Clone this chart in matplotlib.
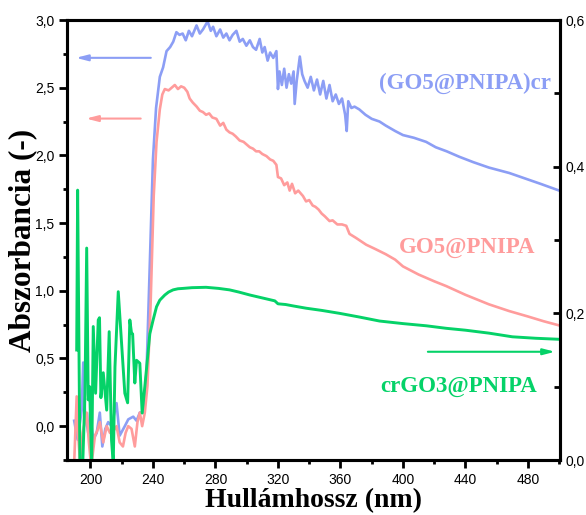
import matplotlib
matplotlib.use("Agg")
import matplotlib.pyplot as plt
from matplotlib.ticker import MultipleLocator, FuncFormatter

# ---------------- data ----------------
blue_x = [189.6, 191.8, 194.4, 195.4, 196.5, 198.6, 199.7, 201.8, 204, 206, 207.6, 209.5, 211.4, 213.5,
          216.7, 218.7, 222, 224.2, 227.4, 229.5, 231.6, 233.7, 235.9, 238, 240, 242, 244.4, 246.5,
          248.7, 251, 253, 255, 257, 259, 261, 263, 265, 267.9, 270, 272, 275, 277, 278.5, 280.6,
          283, 285, 287, 289, 291, 293.4, 295.5, 297.5, 299.8, 302, 304, 306, 308.3, 310, 311.5,
          313.4, 315, 317, 319, 320, 321, 322.5, 324, 325.5, 327, 328.5, 330, 330.7, 332, 334,
          335.5, 337, 339, 341, 343, 345, 347, 349, 351, 353, 355, 357, 359, 361, 363, 364, 365,
          367, 369, 372, 376, 380, 385, 389, 395, 400, 407, 414.8, 421, 428, 436, 445, 455, 468,
          478, 488, 500]
blue_y = [0.04, -0.10, 0.12, 0.47, 0.10, -0.05, 0.10, -0.10, -0.05, 0.10, -0.15, -0.02, 0.03, 0.00,
          0.17, -0.07, 0.00, 0.05, 0.07, 0.04, 0.10, 0.10, 0.40, 1.20, 1.97, 2.35, 2.58, 2.65,
          2.77, 2.80, 2.84, 2.91, 2.89, 2.90, 2.85, 2.92, 2.88, 2.96, 2.90, 2.93, 2.99, 2.92, 2.95,
          2.88, 2.93, 2.87, 2.90, 2.85, 2.89, 2.92, 2.84, 2.86, 2.81, 2.85, 2.80, 2.78, 2.86, 2.76,
          2.80, 2.70, 2.76, 2.72, 2.77, 2.49, 2.62, 2.52, 2.64, 2.50, 2.60, 2.53, 2.62, 2.38, 2.55,
          2.73, 2.60, 2.55, 2.50, 2.58, 2.48, 2.56, 2.45, 2.55, 2.42, 2.52, 2.40, 2.45, 2.38, 2.42,
          2.30, 2.18, 2.40, 2.35, 2.36, 2.34, 2.30, 2.27, 2.25, 2.22, 2.18, 2.15, 2.13, 2.10, 2.06,
          2.03, 1.99, 1.95, 1.91, 1.87, 1.83, 1.79, 1.74]

pink_x = [189.5, 191.2, 192.2, 193.5, 195, 197.6, 199, 200.5, 202.9, 204.5, 206, 208.2, 210.4, 212.5,
          214.5, 216.7, 218.7, 220.8, 222.5, 224.2, 226.3, 228.4, 230.1, 231.6, 233.1, 234.8, 236.5,
          238.5, 240.5, 242.3, 244.4, 246, 247.6, 250, 252, 254, 256, 258, 260, 262, 263.5, 265.5,
          268, 270, 272, 274, 276, 278, 280.6, 283, 285, 287, 289, 291, 293, 295.5, 298, 300, 302,
          304, 306, 308, 310, 312.6, 315, 317, 319, 320, 322, 324, 326, 327.5, 329, 331, 333, 336,
          338, 340, 342.2, 344, 346, 348, 350, 353, 355, 358, 361, 363.7, 365.8, 370, 376.5, 382,
          389, 395, 400, 410, 420, 427.6, 440, 455, 468, 480, 490, 500]
pink_y = [-0.30, 0.22, -0.07, -0.30, -0.05, 0.10, -0.12, -0.30, -0.07, -0.03, 0.03, -0.12, 0.00, -0.05,
          -0.04, 0.00, -0.12, -0.15, -0.05, 0.00, -0.02, -0.15, 0.03, 0.10, 0.00, 0.10, 0.30,
          0.90, 1.70, 2.10, 2.34, 2.45, 2.49, 2.48, 2.50, 2.52, 2.49, 2.51, 2.50, 2.47, 2.42, 2.39,
          2.36, 2.33, 2.32, 2.30, 2.31, 2.28, 2.27, 2.22, 2.24, 2.19, 2.17, 2.16, 2.14, 2.11, 2.10,
          2.08, 2.06, 2.05, 2.03, 2.03, 2.01, 1.995, 1.97, 1.96, 1.93, 1.84, 1.83, 1.78, 1.80, 1.74,
          1.79, 1.72, 1.74, 1.70, 1.66, 1.67, 1.63, 1.62, 1.60, 1.57, 1.55, 1.515, 1.52, 1.49, 1.49,
          1.48, 1.42, 1.39, 1.34, 1.31, 1.27, 1.23, 1.18, 1.12, 1.07, 1.035, 0.97, 0.90, 0.85,
          0.81, 0.775, 0.744]

green_x = [191.2, 191.8, 193.3, 195.0, 196.5, 197.6, 198.6, 199.5, 200.8, 201.8, 203.3, 205, 205.8,
           206.7, 208.2, 210.4, 212, 213.5, 214.6, 215.7, 217.8, 219.9, 222, 223.8, 225.2, 226.3,
           227, 228.4, 229.5, 231.6, 233.1, 234.8, 238, 240, 242.3, 244.4, 247.6, 250, 252.9, 256,
           259.3, 265, 274, 282, 289, 295, 302, 310, 318, 320, 325, 330, 338, 348, 359.4, 372,
           385, 400, 415, 427.6, 440, 455, 470, 485, 500]
green_y = [0.15, 0.368, -0.01, -0.01, 0.09, 0.289, 0.082, 0.10, -0.01, 0.182, 0.091, 0.191, 0.194,
           0.085, 0.119, 0.068, 0.175, 0.027, -0.005, 0.127, 0.2295, 0.16, 0.091, 0.078, 0.191, 0.173,
           0.172, 0.105, 0.136, 0.132, 0.064, 0.10, 0.172, 0.19, 0.209, 0.218, 0.225, 0.229, 0.232,
           0.2335, 0.234, 0.235, 0.2355, 0.234, 0.232, 0.229, 0.225, 0.221, 0.217, 0.213, 0.212,
           0.210, 0.207, 0.204, 0.200, 0.195, 0.1895, 0.186, 0.183, 0.1796, 0.177, 0.173, 0.168,
           0.166, 0.1646]

labels = ["(GO5@PNIPA)cr", "GO5@PNIPA", "crGO3@PNIPA"]
xlabel = "Hullámhossz (nm)"
ylabel = "Abszorbancia (-)"

# ---------------- style ----------------
c_blue = "#8c9ef5"
c_pink = "#ff9c9c"
c_green = "#05d268"

serif = ["Liberation Serif", "DejaVu Serif"]
sans = ["Liberation Sans", "DejaVu Sans"]
plt.rcParams["font.family"] = sans

fig = plt.figure(figsize=(5.86, 5.15), dpi=100)
ax = fig.add_axes([67 / 586, 1 - 460 / 515, 493 / 586, 440 / 515])
ax2 = ax.twinx()

ax.plot(blue_x, blue_y, color=c_blue, lw=1.9, solid_joinstyle="round")
ax.plot(pink_x, pink_y, color=c_pink, lw=1.9, solid_joinstyle="round")
ax2.plot(green_x, green_y, color=c_green, lw=2.1, solid_joinstyle="round")

ax.set_xlim(185, 500.5)
ax.set_ylim(-0.25, 3.0)
ax2.set_ylim(0, 0.6)

fmt = FuncFormatter(lambda v, p: f"{v:.1f}".replace(".", ","))
ax.xaxis.set_major_locator(MultipleLocator(40))
ax.xaxis.set_minor_locator(MultipleLocator(20))
ax.yaxis.set_major_locator(MultipleLocator(0.5))
ax.yaxis.set_minor_locator(MultipleLocator(0.25))
ax.yaxis.set_major_formatter(fmt)
ax2.yaxis.set_major_locator(MultipleLocator(0.2))
ax2.yaxis.set_minor_locator(MultipleLocator(0.1))
ax2.yaxis.set_major_formatter(fmt)

for a in (ax, ax2):
    for s in a.spines.values():
        s.set_linewidth(2.2)

ax.tick_params(axis="both", which="major", direction="out", length=6, width=2, labelsize=10, pad=3)
ax.tick_params(axis="both", which="minor", direction="out", length=3, width=2)
ax.tick_params(axis="y", right=False)
ax.tick_params(axis="x", top=False, which="both")
ax2.tick_params(axis="y", which="major", direction="in", length=5, width=2, labelsize=10, pad=4)
ax2.tick_params(axis="y", which="minor", direction="in", length=4, width=2)

ax.set_xlabel(xlabel, fontfamily=serif, fontweight="bold", fontsize=20, va="center")
ax.xaxis.set_label_coords(0.5, -0.092)
ax.set_ylabel(ylabel, fontfamily=serif, fontweight="bold", fontsize=22.5, va="center")
ax.yaxis.set_label_coords(-0.09, 0.5)

# labels
ax.text(0.807, 0.855, labels[0], transform=ax.transAxes, color=c_blue, fontfamily=serif,
        fontweight="bold", fontsize=16.5, ha="center", va="center")
ax.text(0.811, 0.484, labels[1], transform=ax.transAxes, color=c_pink, fontfamily=serif,
        fontweight="bold", fontsize=16.5, ha="center", va="center")
ax.text(0.794, 0.166, labels[2], transform=ax.transAxes, color=c_green, fontfamily=serif,
        fontweight="bold", fontsize=16.5, ha="center", va="center")

# arrows indicating axes
def arrow(tail, head, color):
    ax.annotate("", xy=head, xytext=tail, xycoords="axes fraction", textcoords="axes fraction",
                arrowprops=dict(arrowstyle="-|>,head_length=0.7,head_width=0.18", color=color,
                                lw=1.5, shrinkA=0, shrinkB=0))

arrow((0.170, 0.914), (0.018, 0.914), c_blue)
arrow((0.1495, 0.776), (0.0385, 0.776), c_pink)
arrow((0.732, 0.246), (0.990, 0.246), c_green)

fig.savefig("out.png", dpi=100)
